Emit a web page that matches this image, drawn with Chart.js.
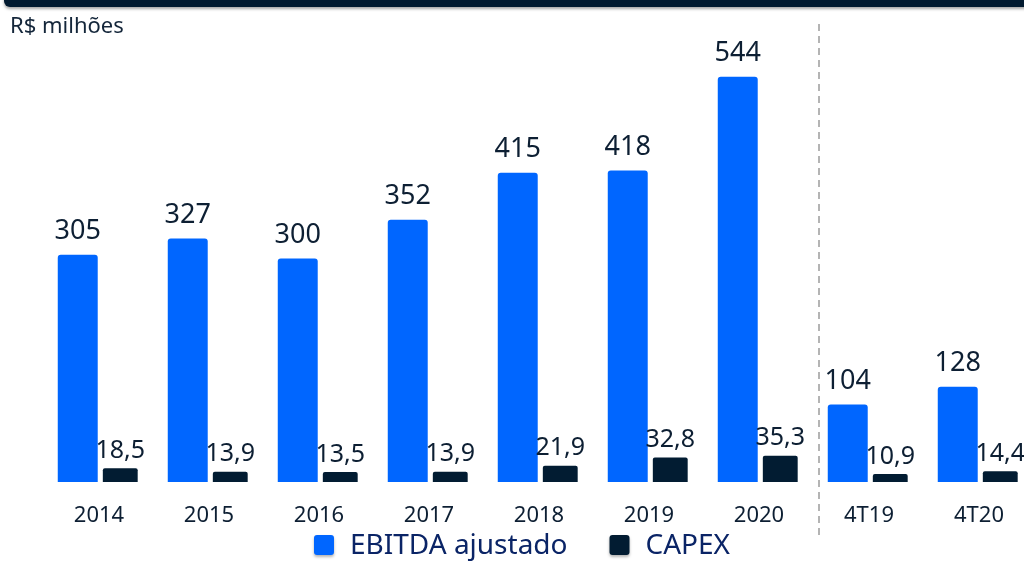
<!DOCTYPE html>
<html>
<head>
<meta charset="utf-8">
<script src="https://cdn.jsdelivr.net/npm/chart.js@4.4.1/dist/chart.umd.min.js"></script>
<style>
    html, body { margin: 0; padding: 0; background: #fff; overflow: hidden; }
    #wrap { position: relative; width: 1034px; height: 562px; }
    #topBar {
        position: absolute; left: 4px; top: -8px; width: 1040px; height: 15px;
        background: #011a30; border-radius: 6px;
        box-shadow: 0 2px 3px rgba(0, 0, 0, 0.35);
    }
    #unit {
        position: absolute; left: 10px; top: 9px;
        font: 22px "Noto Sans", sans-serif; color: #14263a;
    }
</style>
</head>
<body>
<div id="wrap">
    <canvas id="chart" width="1034" height="562"></canvas>
    <div id="topBar"></div>
    <div id="unit">R$ milhões</div>
</div>
<script>
// 数据
const categories = ['2014', '2015', '2016', '2017', '2018', '2019', '2020', '4T19', '4T20'];
const ebitdaValues = [305, 327, 300, 352, 415, 418, 544, 104, 128];
const capexValues = [18.5, 13.9, 13.5, 13.9, 21.9, 32.8, 35.3, 10.9, 14.4];
const seriesNames = ['EBITDA ajustado', 'CAPEX'];

const BLUE = '#0066ff';
const NAVY = '#021c32';
const TEXT = '#0d1f33';
const FONT = '"Noto Sans", sans-serif';

// 数值标签（逗号作小数点）
const valueLabels = {
    id: 'valueLabels',
    afterDatasetsDraw(chart) {
        const ctx = chart.ctx;
        ctx.save();
        ctx.fillStyle = TEXT;
        ctx.textAlign = 'center';
        ctx.textBaseline = 'bottom';
        chart.data.datasets.forEach((ds, di) => {
            const meta = chart.getDatasetMeta(di);
            ctx.font = (di === 0 ? '27px ' : '25px ') + FONT;
            meta.data.forEach((bar, i) => {
                const v = ds.data[i];
                const txt = di === 0 ? String(v) : v.toFixed(1).replace('.', ',');
                ctx.fillText(txt, bar.x, bar.y - (di === 0 ? 10 : 5));
            });
        });
        ctx.restore();
    }
};

// 年度与季度之间的虚线分隔
const periodDivider = {
    id: 'periodDivider',
    afterDraw(chart) {
        const x = chart.scales.x.getPixelForValue(6.5) + 5;
        const ctx = chart.ctx;
        ctx.save();
        ctx.strokeStyle = '#b4b4b4';
        ctx.lineWidth = 2;
        ctx.setLineDash([7, 5]);
        ctx.beginPath();
        ctx.moveTo(x, 24);
        ctx.lineTo(x, 535);
        ctx.stroke();
        ctx.restore();
    }
};

// 底部图例（自绘，便于控制间距）
const bottomLegend = {
    id: 'bottomLegend',
    afterDraw(chart) {
        const ctx = chart.ctx;
        const box = 20, gapText = 16, gapItem = 42;
        const y = 546;
        ctx.save();
        ctx.font = '28px ' + FONT;
        const items = chart.data.datasets.map(ds => ({
            text: ds.label, color: ds.backgroundColor, w: ctx.measureText(ds.label).width
        }));
        const total = items.reduce((s, it) => s + box + gapText + it.w, 0) + gapItem * (items.length - 1);
        let x = (chart.width - total) / 2 + 5;
        items.forEach(it => {
            ctx.save();
            ctx.shadowColor = 'rgba(0, 0, 0, 0.3)';
            ctx.shadowBlur = 3;
            ctx.shadowOffsetY = 2;
            ctx.fillStyle = it.color;
            ctx.beginPath();
            ctx.roundRect(x, y - box / 2 - 1, box, box, 3);
            ctx.fill();
            ctx.restore();
            ctx.fillStyle = '#0a2466';
            ctx.textAlign = 'left';
            ctx.textBaseline = 'middle';
            ctx.fillText(it.text, x + box + gapText, y);
            x += box + gapText + it.w + gapItem;
        });
        ctx.restore();
    }
};

new Chart(document.getElementById('chart'), {
    type: 'bar',
    data: {
        labels: categories,
        datasets: [
            {
                label: seriesNames[0],
                data: ebitdaValues,
                backgroundColor: BLUE,
                barPercentage: 0.94,
                categoryPercentage: 0.773,
                borderRadius: { topLeft: 3, topRight: 3 },
                borderSkipped: 'bottom'
            },
            {
                label: seriesNames[1],
                data: capexValues,
                backgroundColor: NAVY,
                barPercentage: 0.82,
                categoryPercentage: 0.773,
                borderRadius: { topLeft: 2, topRight: 2 },
                borderSkipped: 'bottom'
            }
        ]
    },
    options: {
        responsive: false,
        animation: false,
        layout: { padding: { left: 0, right: 0, top: 35, bottom: 32 } },
        scales: {
            x: {
                grid: { display: false, drawTicks: false },
                border: { display: false },
                ticks: { color: TEXT, font: { family: FONT, size: 22 }, padding: 21 },
                afterFit: (s) => { s.height = 48; }
            },
            y: {
                min: 0,
                max: 600,
                grid: { display: false, drawTicks: false },
                border: { display: false },
                ticks: { display: false },
                afterFit: (s) => { s.width = 44; }
            }
        },
        plugins: {
            legend: { display: false },
            tooltip: { enabled: false }
        }
    },
    plugins: [valueLabels, periodDivider, bottomLegend]
});
</script>
</body>
</html>
